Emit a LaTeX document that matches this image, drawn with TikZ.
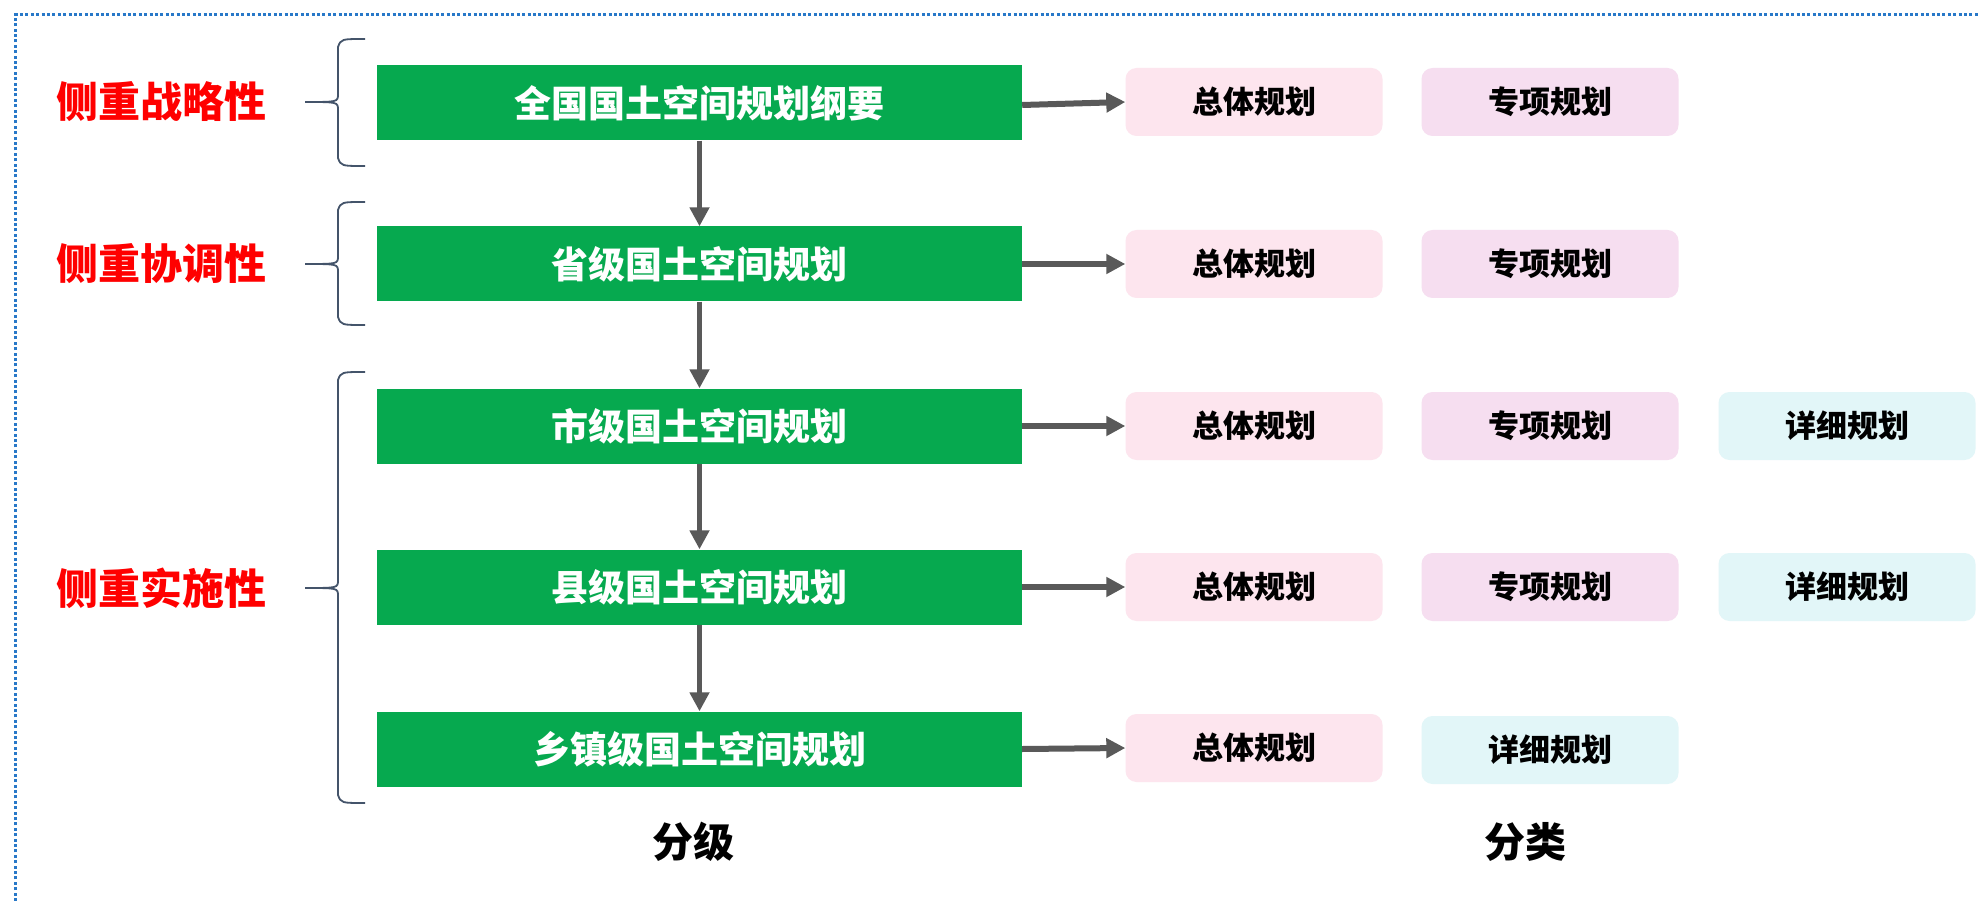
\documentclass[tikz,border=0pt]{standalone}
\usepackage{fontspec}
\setmainfont{Noto Sans CJK SC}
\usetikzlibrary{arrows.meta}
\definecolor{boxgreen}{RGB}{6,169,79}
\definecolor{arrowgray}{RGB}{89,89,89}
\definecolor{pinkbox}{RGB}{253,229,238}
\definecolor{lavbox}{RGB}{246,222,240}
\definecolor{cyanbox}{RGB}{226,246,248}
\definecolor{bracecol}{RGB}{68,84,106}
\definecolor{bordercol}{RGB}{40,120,200}
\tikzset{
  levelbox/.style={fill=boxgreen, minimum width=645pt, minimum height=75pt, inner sep=0pt,
    text=white, font=\bfseries\fontsize{37}{40}\selectfont},
  kindbox/.style={rounded corners=11pt, minimum width=257pt, minimum height=68pt, inner sep=0pt,
    text=black, font=\bfseries\fontsize{31}{34}\selectfont},
  zongti/.style={kindbox, fill=pinkbox},
  zhuanxiang/.style={kindbox, fill=lavbox},
  xiangxi/.style={kindbox, fill=cyanbox},
  focuslabel/.style={text=red, font=\bfseries\fontsize{42}{46}\selectfont, inner sep=0pt},
  footlabel/.style={text=black, font=\bfseries\fontsize{41}{44}\selectfont, inner sep=0pt},
  downarrow/.style={draw=arrowgray, line width=5pt, -{Triangle[length=19pt,width=19pt]}, shorten >=0pt},
  rightarrow/.style={draw=arrowgray, line width=6pt, -{Triangle[length=19pt,width=19pt]}},
  bracestyle/.style={draw=bracecol, line width=1.8pt},
  borderline/.style={draw=bordercol, line width=3pt, dash pattern=on 3pt off 2.4pt}
}
\newcommand\bracedraw[3]{%
  \draw[bracestyle] (365,#1) .. controls (341,#1) .. (338,#1+8) -- (338,#2-8)
    .. controls (338,#2) .. (305,#2) .. controls (338,#2) .. (338,#2+8)
    -- (338,#3-8) .. controls (341,#3) .. (365,#3);}
\begin{document}
\begin{tikzpicture}[x=1pt,y=-1pt]
\useasboundingbox (0,0) rectangle (1978,901);
\fill[white] (0,0) rectangle (1978,901);
\draw[borderline] (15,901) -- (15,15) -- (1978,15);

% level boxes
\node[levelbox] (g1) at (699.5,103) {全国国土空间规划纲要};
\node[levelbox] (g2) at (699.5,264) {省级国土空间规划};
\node[levelbox] (g3) at (699.5,426) {市级国土空间规划};
\node[levelbox] (g4) at (699.5,587) {县级国土空间规划};
\node[levelbox] (g5) at (699.5,749) {乡镇级国土空间规划};

% kind boxes
\node[zongti] (p1) at (1254,102) {总体规划};
\node[zongti] (p2) at (1254,264) {总体规划};
\node[zongti] (p3) at (1254,426) {总体规划};
\node[zongti] (p4) at (1254,587) {总体规划};
\node[zongti] (p5) at (1254,748) {总体规划};
\node[zhuanxiang] (s1) at (1550,102) {专项规划};
\node[zhuanxiang] (s2) at (1550,264) {专项规划};
\node[zhuanxiang] (s3) at (1550,426) {专项规划};
\node[zhuanxiang] (s4) at (1550,587) {专项规划};
\node[xiangxi] (d3) at (1847,426) {详细规划};
\node[xiangxi] (d4) at (1847,587) {详细规划};
\node[xiangxi] (d5) at (1550,750) {详细规划};

% focus labels
\node[focuslabel] (f1) at (161,102) {侧重战略性};
\node[focuslabel] (f2) at (161,264) {侧重协调性};
\node[focuslabel] (f3) at (161,588) {侧重实施性};

% footer labels
\node[footlabel] (fj) at (693,842) {分级};
\node[footlabel] (fl) at (1525,842) {分类};

% vertical arrows
\draw[downarrow] (g1.south) -- (g2.north);
\draw[downarrow] (g2.south) -- (g3.north);
\draw[downarrow] (g3.south) -- (g4.north);
\draw[downarrow] (g4.south) -- (g5.north);

% horizontal arrows
\draw[rightarrow] ([yshift=-2pt]g1.east) -- (p1.west);
\draw[rightarrow] (g2.east) -- (p2.west);
\draw[rightarrow] (g3.east) -- (p3.west);
\draw[rightarrow] (g4.east) -- (p4.west);
\draw[rightarrow] (g5.east) -- (p5.west);

% braces
\bracedraw{39}{102}{166}
\bracedraw{202}{264}{325}
\bracedraw{372}{588}{803}
\end{tikzpicture}
\end{document}
